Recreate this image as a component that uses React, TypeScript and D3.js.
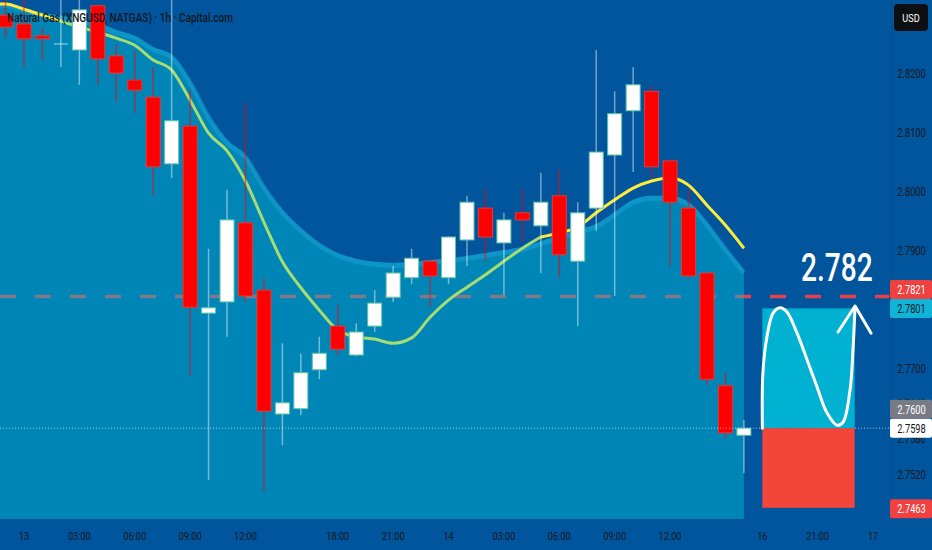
import { useEffect, useRef } from "react"
import * as d3 from "d3"

// hourly candles, XNGUSD
const opens = [2.8298, 2.8283, 2.8263, 2.8251, 2.8239, 2.8314, 2.8229, 2.8188, 2.8159, 2.8046, 2.811, 2.7793, 2.7812, 2.7946, 2.7832, 2.7622, 2.7631, 2.7697, 2.7771, 2.7722, 2.7771, 2.782, 2.7853, 2.7881, 2.7853, 2.7917, 2.7971, 2.7912, 2.7963, 2.7941, 2.7992, 2.7881, 2.7971, 2.8061, 2.8136, 2.8169, 2.8051, 2.7971, 2.7861, 2.767, 2.7586]
const highs = [2.8332, 2.8324, 2.8278, 2.8326, 2.833, 2.8317, 2.8249, 2.8239, 2.821, 2.833, 2.8171, 2.7902, 2.8002, 2.8149, 2.7853, 2.7742, 2.7724, 2.7753, 2.7807, 2.7776, 2.7832, 2.7873, 2.7902, 2.7883, 2.7923, 2.7992, 2.8002, 2.7963, 2.8002, 2.8031, 2.8036, 2.7981, 2.8239, 2.8169, 2.821, 2.8178, 2.8052, 2.8002, 2.7862, 2.7692, 2.7612]
const lows = [2.8259, 2.821, 2.822, 2.821, 2.818, 2.818, 2.8151, 2.8132, 2.7993, 2.8022, 2.7686, 2.751, 2.7753, 2.7812, 2.749, 2.7569, 2.762, 2.7681, 2.7722, 2.772, 2.7761, 2.7812, 2.7842, 2.7803, 2.7842, 2.7873, 2.7881, 2.7824, 2.7914, 2.7861, 2.7853, 2.7771, 2.7932, 2.7822, 2.8032, 2.8022, 2.7873, 2.7853, 2.7671, 2.7581, 2.7522]
const closes = [2.8278, 2.8258, 2.8258, 2.8251, 2.8307, 2.8224, 2.82, 2.8171, 2.8041, 2.8119, 2.7803, 2.7802, 2.7951, 2.7822, 2.7627, 2.7641, 2.7692, 2.7725, 2.7732, 2.7761, 2.781, 2.7861, 2.7886, 2.7856, 2.7922, 2.7981, 2.7922, 2.7951, 2.7951, 2.7981, 2.7892, 2.7963, 2.8066, 2.8131, 2.818, 2.8041, 2.7981, 2.7856, 2.7681, 2.759, 2.7598]

// moving average and upper band of the envelope
const maValues = [2.8317, 2.8308, 2.8298, 2.8288, 2.8278, 2.8269, 2.8259, 2.8247, 2.8222, 2.8205, 2.8154, 2.8098, 2.8068, 2.8017, 2.7947, 2.788, 2.7836, 2.7798, 2.7764, 2.7753, 2.7749, 2.7742, 2.7751, 2.7786, 2.7815, 2.7837, 2.7858, 2.7881, 2.7903, 2.7922, 2.7929, 2.7939, 2.7963, 2.7985, 2.8005, 2.8017, 2.8022, 2.801, 2.7976, 2.7942, 2.7903]
const bandUpper = [2.8319, 2.831, 2.8302, 2.8297, 2.8292, 2.8285, 2.8273, 2.8263, 2.8244, 2.8231, 2.8188, 2.8129, 2.8086, 2.8061, 2.801, 2.7968, 2.7937, 2.7912, 2.7895, 2.7885, 2.788, 2.7878, 2.788, 2.7883, 2.7886, 2.789, 2.7895, 2.79, 2.7905, 2.7915, 2.7925, 2.7934, 2.7944, 2.7964, 2.7985, 2.7992, 2.7992, 2.7981, 2.7947, 2.7905, 2.7866]
const maGreenFrom = 3
const maGreenTo = 29

const timeTickIndex = [1, 4, 7, 10, 13, 18, 21, 24, 27, 30, 33, 36, 41, 44, 47]
const timeTickLabels = ["13", "03:00", "06:00", "09:00", "12:00", "18:00", "21:00", "14", "03:00", "06:00", "09:00", "12:00", "16", "21:00", "17"]
const priceTicks = [2.82, 2.81, 2.8, 2.79, 2.78, 2.77, 2.764, 2.758, 2.752]

const targetPrice = 2.7821
const takeProfit = 2.7801
const entryPrice = 2.7598
const prevClose = 2.76
const stopLoss = 2.7463
const boxStart = 41
const boxEnd = 46

// hand drawn wave inside the long position box (bar index, price)
const wavePoints: [number, number][] = [
  [41.0, 2.7598], [41.03, 2.7692], [41.25, 2.7753], [41.58, 2.7793], [41.96, 2.7802],
  [42.33, 2.7795], [42.88, 2.7759], [43.42, 2.7714], [43.96, 2.7668], [44.5, 2.7624],
  [45.04, 2.7603], [45.37, 2.7608], [45.75, 2.7663], [45.91, 2.7731], [46.02, 2.7803],
]
const arrowHead: [number, number][] = [[45.1, 2.7761], [46.02, 2.7805], [46.89, 2.7759]]

const FONT = "Roboto, 'Noto Sans', sans-serif"
const SX = 0.74

export default function App() {
  const svgRef = useRef<SVGSVGElement>(null)

  useEffect(() => {
    if (!svgRef.current) return
    d3.select(svgRef.current).selectAll("*").remove()

    const width = 932
    const height = 550
    const plotRight = 889
    const plotBottom = 519

    const svg = d3.select(svgRef.current).attr("width", width).attr("height", height)

    const x = d3.scaleLinear().domain([0, 40]).range([5.5, 743.9])
    const y = d3.scaleLinear().domain([2.752, 2.82]).range([474.2, 73])
    const bw = 14

    const text = (
      g: d3.Selection<any, unknown, null, undefined>,
      s: string,
      tx: number,
      ty: number,
      size: number,
      fill: string,
      anchor = "middle",
      sx = SX,
      weight = 400
    ) =>
      g
        .append("text")
        .attr("transform", `translate(${tx},${ty}) scale(${sx},1)`)
        .attr("text-anchor", anchor)
        .style("font-family", FONT)
        .style("font-size", `${size}px`)
        .style("font-weight", weight)
        .style("fill", fill)
        .text(s)

    // background
    svg.append("rect").attr("width", width).attr("height", height).attr("fill", "#01559d")

    const plot = svg.append("g")
    plot.append("clipPath").attr("id", "plotClip").append("rect").attr("width", plotRight).attr("height", plotBottom)
    const p = plot.append("g").attr("clip-path", "url(#plotClip)")

    // target level dashed line (under the band area)
    p.append("line")
      .attr("x1", 0)
      .attr("x2", plotRight)
      .attr("y1", y(targetPrice))
      .attr("y2", y(targetPrice))
      .style("stroke", "#e8404c")
      .style("stroke-width", 3.5)
      .style("stroke-dasharray", "16,19")

    // envelope area
    const bandPts: [number, number][] = [[x.invert(0), bandUpper[0]], ...bandUpper.map((v, i) => [i, v] as [number, number])]
    const area = d3
      .area<[number, number]>()
      .x((d) => x(d[0]))
      .y0(plotBottom)
      .y1((d) => y(d[1]))
      .curve(d3.curveMonotoneX)
    p.append("path").datum(bandPts).attr("d", area).style("fill", "rgba(0,193,215,0.45)")

    const bandLine = d3
      .line<[number, number]>()
      .x((d) => x(d[0]))
      .y((d) => y(d[1]) + 2.5)
      .curve(d3.curveMonotoneX)
    p.append("path")
      .datum(bandPts)
      .attr("d", bandLine)
      .style("fill", "none")
      .style("stroke", "rgba(40,180,230,0.35)")
      .style("stroke-width", 5)

    // moving average, coloured in segments
    const maPts: [number, number][] = [[x.invert(0), maValues[0]], ...maValues.map((v, i) => [i, v] as [number, number])]
    const maLine = d3
      .line<[number, number]>()
      .x((d) => x(d[0]))
      .y((d) => y(d[1]))
      .curve(d3.curveMonotoneX)
    const segments = [
      { pts: maPts.slice(0, maGreenFrom + 2), color: "#ffeb3b" },
      { pts: maPts.slice(maGreenFrom + 1, maGreenTo + 2), color: "#a6dc72" },
      { pts: maPts.slice(maGreenTo + 1), color: "#ffeb3b" },
    ]
    segments.forEach((s) => {
      p.append("path")
        .datum(s.pts)
        .attr("d", maLine)
        .style("fill", "none")
        .style("stroke", s.color)
        .style("stroke-width", 3)
        .style("stroke-linejoin", "round")
    })

    // candles
    const candles = opens.map((o, i) => ({ i, o, h: highs[i], l: lows[i], c: closes[i] }))
    const cg = p.append("g")
    cg.selectAll(".wick")
      .data(candles)
      .enter()
      .append("line")
      .attr("x1", (d) => x(d.i))
      .attr("x2", (d) => x(d.i))
      .attr("y1", (d) => y(d.h))
      .attr("y2", (d) => y(d.l))
      .style("stroke", (d) => (d.c >= d.o ? "rgba(255,255,255,0.45)" : "rgba(255,0,0,0.55)"))
      .style("stroke-width", 1.5)

    cg.selectAll(".body")
      .data(candles)
      .enter()
      .append("rect")
      .attr("x", (d) => x(d.i) - bw / 2)
      .attr("y", (d) => y(Math.max(d.o, d.c)))
      .attr("width", bw)
      .attr("height", (d) => Math.max(2, Math.abs(y(d.o) - y(d.c))))
      .style("fill", (d) => (Math.abs(d.o - d.c) < 0.0002 ? "rgba(255,255,255,0.35)" : d.c >= d.o ? "#ffffff" : "#ff0000"))
      .style("stroke", (d) => (Math.abs(d.o - d.c) < 0.0002 ? "none" : d.c >= d.o ? "#5ec4a6" : "#e23a3a"))
      .style("stroke-width", 1)

    // last price dotted line
    p.append("line")
      .attr("x1", 0)
      .attr("x2", plotRight)
      .attr("y1", y(entryPrice))
      .attr("y2", y(entryPrice))
      .style("stroke", "rgba(255,255,255,0.6)")
      .style("stroke-width", 1)
      .style("stroke-dasharray", "1,2")

    // long position box
    p.append("rect")
      .attr("x", x(boxStart))
      .attr("y", y(takeProfit))
      .attr("width", x(boxEnd) - x(boxStart))
      .attr("height", y(entryPrice) - y(takeProfit))
      .style("fill", "#00b1d2")
    p.append("rect")
      .attr("x", x(boxStart))
      .attr("y", y(entryPrice))
      .attr("width", x(boxEnd) - x(boxStart))
      .attr("height", y(stopLoss) - y(entryPrice))
      .style("fill", "#f4453a")

    const sketch = d3
      .line<[number, number]>()
      .x((d) => x(d[0]))
      .y((d) => y(d[1]))
    p.append("path")
      .datum(wavePoints)
      .attr("d", sketch.curve(d3.curveCatmullRom))
      .style("fill", "none")
      .style("stroke", "#ffffff")
      .style("stroke-width", 3)
      .style("stroke-linecap", "round")
    p.append("path")
      .datum(arrowHead)
      .attr("d", sketch.curve(d3.curveLinear))
      .style("fill", "none")
      .style("stroke", "#ffffff")
      .style("stroke-width", 3)
      .style("stroke-linecap", "round")
      .style("stroke-linejoin", "round")

    text(p, targetPrice.toFixed(3), x(boxEnd) + 18, y(targetPrice) - 16, 39, "#ffffff", "end", 0.72, 500)

    // title
    svg.append("text")
      .attr("x", 7)
      .attr("y", 21.5)
      .attr("textLength", 226)
      .attr("lengthAdjust", "spacingAndGlyphs")
      .style("font-family", FONT)
      .style("font-size", "13px")
      .style("font-weight", 500)
      .style("fill", "#131722")
      .text("Natural Gas (XNGUSD, NATGAS) · 1h · Capital.com")

    // price axis
    svg.append("line")
      .attr("x1", plotRight + 3)
      .attr("x2", plotRight + 3)
      .attr("y1", 0)
      .attr("y2", plotBottom)
      .style("stroke", "rgba(0,0,0,0.08)")

    const axis = svg.append("g")
    priceTicks.forEach((t) => text(axis, t.toFixed(4), 911.5, y(t) + 4.5, 12.5, "#131722"))

    // x axis
    timeTickIndex.forEach((ti, k) => text(axis, timeTickLabels[k], x(ti), 540, 11.5, "#131722", "middle", 0.8))

    // currency badge
    axis.append("rect").attr("x", 894).attr("y", 4).attr("width", 34).attr("height", 27).attr("rx", 4).style("fill", "#0e0f13")
    text(axis, "USD", 911, 21.5, 11.5, "#ffffff", "middle", 0.8)

    // price badges
    const bh = 19
    const badges = [
      { price: takeProfit, yc: y(takeProfit), fill: "#10b4d6", color: "#0b1a2a" },
      { price: targetPrice, yc: Math.min(y(targetPrice), y(takeProfit) - bh), fill: "#f0403f", color: "#ffffff" },
      { price: entryPrice, yc: y(entryPrice), fill: "#ffffff", color: "#131722" },
      { price: prevClose, yc: Math.min(y(prevClose), y(entryPrice) - bh), fill: "#787b86", color: "#ffffff" },
      { price: stopLoss, yc: y(stopLoss) + 1, fill: "#f0403f", color: "#ffffff" },
    ]
    badges.forEach((b) => {
      axis.append("rect")
        .attr("x", 890)
        .attr("y", b.yc - bh / 2)
        .attr("width", 42)
        .attr("height", bh)
        .attr("rx", 2)
        .style("fill", b.fill)
      text(axis, b.price.toFixed(4), 911.5, b.yc + 4.5, 12.5, b.color)
    })
  }, [])

  return (
    <div style={{ position: "fixed", left: 0, top: 0 }}>
      <svg ref={svgRef} style={{ display: "block" }}></svg>
    </div>
  )
}
